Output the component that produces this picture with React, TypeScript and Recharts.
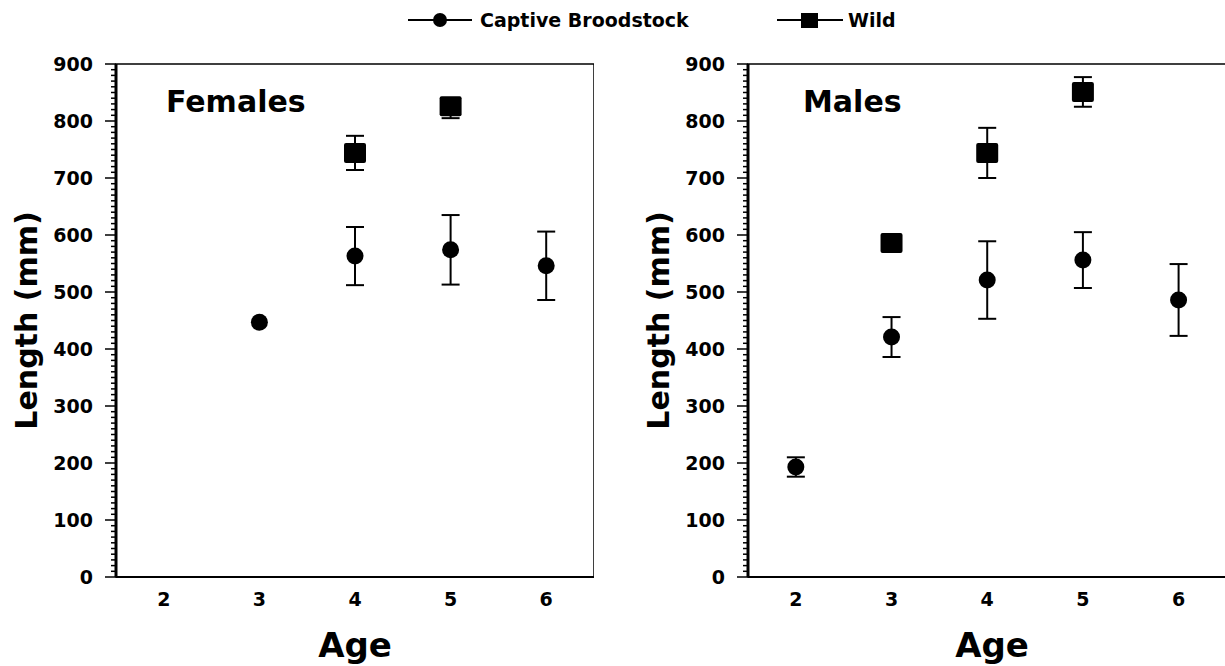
import { ScatterChart, Scatter, XAxis, YAxis, ErrorBar, ReferenceArea } from 'recharts';

const ages = [2, 3, 4, 5, 6];
const seriesNames = ['Captive Broodstock', 'Wild'];
const panelTitles = ['Females', 'Males'];
const xLabel = 'Age';
const yLabel = 'Length (mm)';
const yMajorTicks = [0, 100, 200, 300, 400, 500, 600, 700, 800, 900];

// Females (error = [below, above])
const femaleCaptive = [null, 447, 563, 574, 546];
const femaleCaptiveErr = [null, 0, 51, 61, 60];
const femaleWild = [null, null, 744, 826, null];
const femaleWildErr = [null, null, 30, [21, 14], null];

// Males
const maleCaptive = [193, 421, 521, 556, 486];
const maleCaptiveErr = [17, 35, 68, 49, 63];
const maleWild = [null, 586, 744, 851, null];
const maleWildErr = [null, 0, 44, 26, null];

const FONT = '"DejaVu Sans", Arial, sans-serif';
const AXIS_X = 116;
const PLOT_TOP = 64;
const PLOT_BOTTOM = 577;
const yMinorTicks = Array.from({ length: 91 }, (_, i) => i * 10);

type Err = number | number[] | null;
type Pt = { age: number; len: number; err: number | number[] };

const toPoints = (vals: (number | null)[], errs: Err[]): Pt[] =>
  ages.flatMap((age, i) => (vals[i] == null ? [] : [{ age, len: vals[i] as number, err: errs[i] ?? 0 }]));

const circleShape = (p: any) => <circle cx={p.cx} cy={p.cy} r={8.5} fill="#000" />;
const squareShape = (p: any) => <rect x={p.cx - 11} y={p.cy - 10} width={22} height={20} rx={2} fill="#000" />;

const YTick = (props: any) => {
  const { y, payload } = props;
  const v = payload.value;
  const major = yMajorTicks.includes(v);
  return (
    <g>
      <line x1={AXIS_X - (major ? 11 : 5)} x2={AXIS_X} y1={y} y2={y} stroke="#000" strokeWidth={1.5} />
      {major && (
        <text x={93} y={y} dy={7} textAnchor="end" fontFamily={FONT} fontWeight="bold" fontSize={19} fill="#000">
          {v}
        </text>
      )}
    </g>
  );
};

const XTick = (props: any) => (
  <text x={props.x} y={PLOT_BOTTOM + 29} textAnchor="middle" fontFamily={FONT} fontWeight="bold" fontSize={19} fill="#000">
    {props.payload.value}
  </text>
);

function Panel({ captive, captiveErr, wild, wildErr, width, xMax }: any) {
  return (
    <ScatterChart width={width} height={666} margin={{ top: PLOT_TOP, right: 0, bottom: 0, left: 0 }}>
      <ReferenceArea x1={1.5} x2={xMax} y1={0} y2={900} fill="none" stroke="#000" strokeWidth={1.5} ifOverflow="visible" />
      <XAxis
        type="number"
        dataKey="age"
        domain={[1.5, xMax]}
        ticks={ages}
        interval={0}
        allowDataOverflow
        height={666 - PLOT_BOTTOM}
        tickLine={false}
        axisLine={{ stroke: '#000', strokeWidth: 2 }}
        tick={<XTick />}
        label={{ value: xLabel, position: 'insideBottom', offset: 9, style: { fontFamily: FONT, fontWeight: 'bold', fontSize: 34, fill: '#000' } }}
      />
      <YAxis
        type="number"
        dataKey="len"
        domain={[0, 900]}
        ticks={yMinorTicks}
        interval={0}
        width={AXIS_X}
        tickLine={false}
        axisLine={{ stroke: '#000', strokeWidth: 3 }}
        tick={<YTick />}
        label={{ value: yLabel, angle: -90, position: 'insideLeft', offset: 26, style: { textAnchor: 'middle', fontFamily: FONT, fontWeight: 'bold', fontSize: 30, fill: '#000' } }}
      />
      <Scatter name={seriesNames[0]} data={toPoints(captive, captiveErr)} shape={circleShape} isAnimationActive={false}>
        <ErrorBar dataKey="err" direction="y" width={9} stroke="#000" strokeWidth={2} />
      </Scatter>
      <Scatter name={seriesNames[1]} data={toPoints(wild, wildErr)} shape={squareShape} isAnimationActive={false}>
        <ErrorBar dataKey="err" direction="y" width={9} stroke="#000" strokeWidth={2} />
      </Scatter>
    </ScatterChart>
  );
}

function Legend() {
  return (
    <svg width={1225} height={44} style={{ position: 'absolute', left: 0, top: 0 }}>
      <line x1={408} x2={472} y1={20} y2={20} stroke="#000" strokeWidth={2} />
      <circle cx={440} cy={20} r={7} fill="#000" />
      <text x={480} y={27} fontFamily={FONT} fontWeight="bold" fontSize={19} fill="#000">
        {seriesNames[0]}
      </text>
      <line x1={777} x2={843} y1={20} y2={20} stroke="#000" strokeWidth={2} />
      <rect x={801} y={13} width={17} height={15} fill="#000" />
      <text x={848} y={27} fontFamily={FONT} fontWeight="bold" fontSize={19} fill="#000">
        {seriesNames[1]}
      </text>
    </svg>
  );
}

export default function App() {
  return (
    <div style={{ position: 'fixed', left: 0, top: 0, width: 1225, height: 666, overflow: 'hidden', background: '#fff' }}>
      <div style={{ position: 'absolute', left: 0, top: 0 }}>
        <Panel captive={femaleCaptive} captiveErr={femaleCaptiveErr} wild={femaleWild} wildErr={femaleWildErr} width={594} xMax={6.5} />
      </div>
      <div style={{ position: 'absolute', left: 632, top: 0 }}>
        <Panel captive={maleCaptive} captiveErr={maleCaptiveErr} wild={maleWild} wildErr={maleWildErr} width={604} xMax={6.6} />
      </div>
      <Legend />
      <svg width={1225} height={140} style={{ position: 'absolute', left: 0, top: 0, pointerEvents: 'none' }}>
        <text x={166} y={112} fontFamily={FONT} fontWeight="bold" fontSize={30} fill="#000">
          {panelTitles[0]}
        </text>
        <text x={803} y={112} fontFamily={FONT} fontWeight="bold" fontSize={30} fill="#000">
          {panelTitles[1]}
        </text>
      </svg>
    </div>
  );
}
